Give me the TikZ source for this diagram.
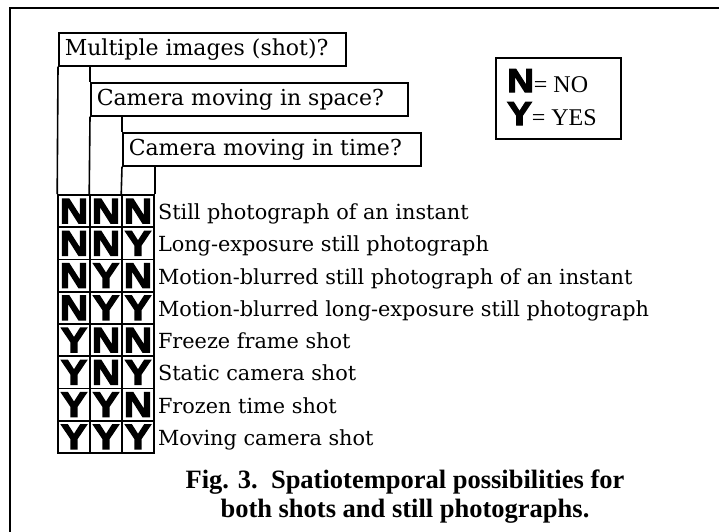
\documentclass[tikz,border=0pt]{standalone}
\usepackage{fontspec}
\setmainfont{DejaVu Serif}
\newfontfamily\cellfont{Liberation Sans}[UprightFont={* Bold},FakeBold=4,FakeStretch=1.12]
\newfontfamily\keyfont{Liberation Serif}
\newfontfamily\figcapfont{Liberation Serif}[UprightFont={* Bold}]

\tikzset{
  qbox/.style={draw, line width=1.6pt, anchor=north west, minimum height=33pt,
    inner xsep=6pt, inner ysep=0pt, text height=15pt, text depth=3.4pt,
    font=\fontsize{22}{26}\selectfont},
  cell/.style={draw, line width=1.6pt, minimum width=32pt, minimum height=32.25pt,
    inner sep=0pt, font=\cellfont\fontsize{35}{35}\selectfont},
  rowtext/.style={anchor=base west, inner sep=0pt, font=\fontsize{20.8}{24}\selectfont},
}

\begin{document}
\begin{tikzpicture}[x=1pt, y=-1pt]
  \clip (0,0) rectangle (719,531);
  % outer frame, runs off the right and bottom
  \draw[line width=2pt] (10,8) rectangle (740,560);

  % the three questions
  \node[qbox] (q1) at (58,32) {\makebox[275pt][l]{Multiple images (shot)?}};
  \node[qbox] (q2) at (90,82) {\makebox[305pt][l]{Camera moving in space?}};
  \node[qbox] (q3) at (122,132) {\makebox[286pt][l]{Camera moving in time?}};

  % key
  \node[draw, line width=1.6pt, minimum width=125pt, minimum height=81pt,
    anchor=north west] (key) at (495,57) {};
  \node[anchor=base west, inner sep=0pt] (keyn) at (507,92)
    {{\cellfont\fontsize{33}{33}\selectfont N}{\keyfont\fontsize{24}{24}\selectfont= NO}};
  \node[anchor=base west, inner sep=0pt] (keyy) at (507,125)
    {{\cellfont\fontsize{33}{33}\selectfont Y}{\keyfont\fontsize{24}{24}\selectfont= YES}};

  % answer grid
  \foreach \a/\b/\c/\txt [count=\r] in {
      N/N/N/{Still photograph of an instant},
      N/N/Y/{Long-exposure still photograph},
      N/Y/N/{Motion-blurred still photograph of an instant},
      N/Y/Y/{Motion-blurred long-exposure still photograph},
      Y/N/N/{Freeze frame shot},
      Y/N/Y/{Static camera shot},
      Y/Y/N/{Frozen time shot},
      Y/Y/Y/{Moving camera shot}} {
    \node[cell] (c\r-1) at (74,{195+32.25*(\r-0.5)}) {\a};
    \node[cell] (c\r-2) at (106,{195+32.25*(\r-0.5)}) {\b};
    \node[cell] (c\r-3) at (138,{195+32.25*(\r-0.5)}) {\c};
    \node[rowtext] (t\r) at ([xshift=3pt, yshift=-8.5pt]c\r-3.east) {\txt};
  }

  % column lines up to the questions
  \draw[line width=1.6pt] (q1.south west) -- (c1-1.north west);
  \draw[line width=1.6pt] (q2.north west |- q1.south) -- (q2.north west);
  \draw[line width=1.6pt] (q2.south west) -- (c1-2.north west);
  \draw[line width=1.6pt] (q3.north west |- q2.south) -- (q3.north west);
  \draw[line width=1.6pt] (q3.south west) -- (c1-3.north west);
  \draw[line width=1.6pt] (c1-3.north east |- q3.south) -- (c1-3.north east);

  % caption, placed by the baseline of its last line
  \node[align=center, anchor=base, inner sep=0pt,
    font=\figcapfont\fontsize{26.5}{29}\selectfont] (cap) at (405,517)
    {Fig. 3.\ \ Spatiotemporal possibilities for\\both shots and still photographs.};
\end{tikzpicture}
\end{document}
